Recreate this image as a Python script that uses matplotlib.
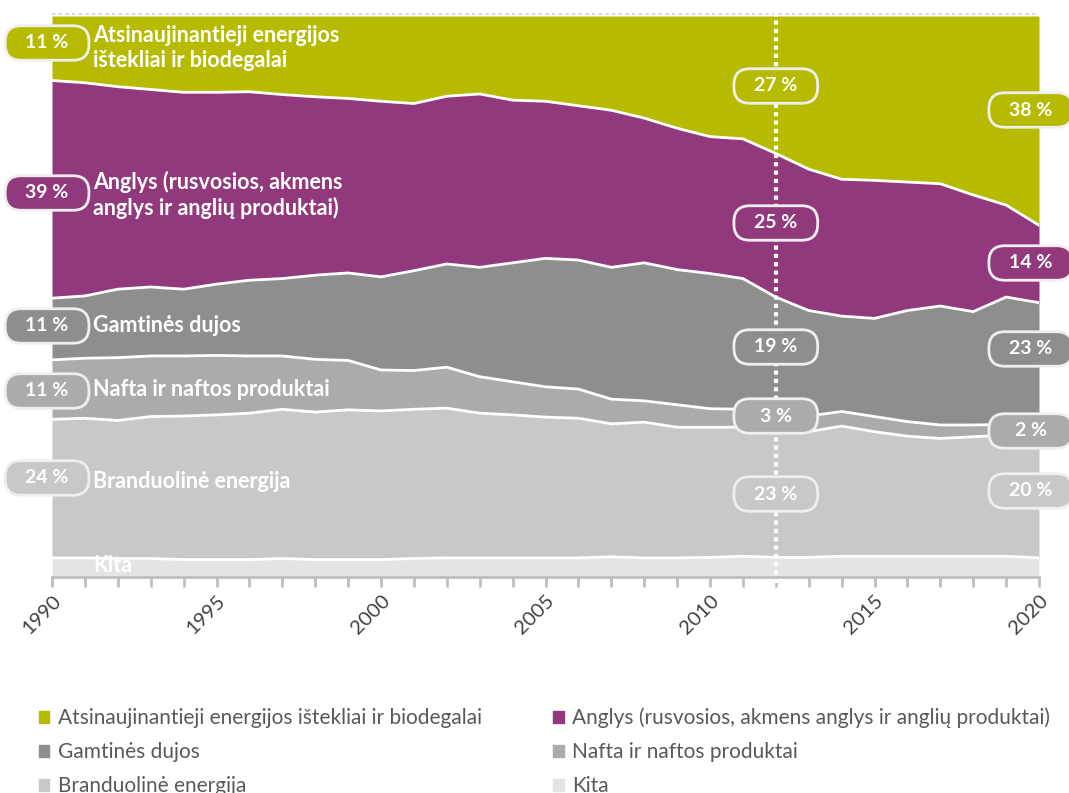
import matplotlib.pyplot as plt
import numpy as np
from matplotlib.patches import Patch

plt.rcParams['font.family'] = ['Lato', 'DejaVu Sans']

# Data (shares in %)
years = np.arange(1990, 2021)
renew = [11.5, 11.9, 12.6, 13.1, 13.6, 13.6, 13.5, 14.0, 14.4, 14.7, 15.2,
         15.6, 14.3, 13.9, 15.0, 15.2, 16.0, 16.8, 18.2, 20.0, 21.5,
         21.9, 24.5, 27.3, 29.1, 29.3, 29.6, 29.9, 31.9, 33.7, 37.3]
coal = [38.8, 38.0, 36.1, 35.2, 35.1, 34.2, 33.6, 32.8, 31.8, 31.1, 31.3,
        29.8, 29.9, 30.9, 29.0, 28.0, 27.5, 28.0, 25.8, 25.2, 24.4,
        24.9, 25.6, 25.2, 24.4, 24.6, 22.9, 21.8, 20.8, 16.4, 13.8]
gas = [11.0, 11.1, 12.2, 12.3, 11.9, 12.7, 13.5, 13.8, 15.0, 15.6, 16.6,
       17.8, 18.4, 19.5, 21.2, 22.9, 23.0, 23.5, 24.6, 24.1, 24.1,
       23.3, 20.8, 18.8, 17.0, 17.5, 19.8, 21.2, 20.2, 22.7, 21.6]
oil = [10.6, 10.7, 11.2, 10.8, 10.7, 10.6, 10.2, 9.5, 9.4, 8.8, 7.3,
       6.9, 7.3, 6.5, 5.9, 5.4, 5.2, 4.4, 3.8, 4.0, 3.3,
       3.2, 3.1, 2.8, 2.6, 2.7, 2.6, 2.4, 2.1, 1.9, 2.0]
nuclear = [24.7, 24.9, 24.6, 25.3, 25.6, 25.8, 26.1, 26.6, 26.3, 26.7, 26.5,
           26.6, 26.7, 25.8, 25.5, 25.1, 24.9, 23.7, 24.2, 23.3, 23.2,
           23.0, 22.5, 22.4, 23.2, 22.2, 21.4, 21.0, 21.3, 21.6, 21.9]
other = [3.4, 3.4, 3.3, 3.3, 3.1, 3.1, 3.1, 3.3, 3.1, 3.1, 3.1,
         3.3, 3.4, 3.4, 3.4, 3.4, 3.4, 3.6, 3.4, 3.4, 3.5,
         3.7, 3.5, 3.5, 3.7, 3.7, 3.7, 3.7, 3.7, 3.7, 3.4]

names = ['Atsinaujinantieji energijos ištekliai ir biodegalai',
         'Anglys (rusvosios, akmens anglys ir anglių produktai)',
         'Gamtinės dujos', 'Nafta ir naftos produktai',
         'Branduolinė energija', 'Kita']
colors = ['#B7BB00', '#92397E', '#8E8E8E', '#ABABAB', '#C8C8C8', '#E4E4E4']

# labels: start / 2012 / end values
start_lbl = ['11 %', '39 %', '11 %', '11 %', '24 %']
mid_lbl = ['27 %', '25 %', '19 %', '3 %', '23 %']
end_lbl = ['38 %', '14 %', '23 %', '2 %', '20 %']

W, H = 1069, 793
fig = plt.figure(figsize=(W / 100, H / 100), dpi=100)
ax = fig.add_axes([52 / W, 1 - 577 / H, (1039 - 52) / W, 561 / H])

series = [other, nuclear, oil, gas, coal, renew]
cols = colors[::-1]
base = np.zeros(len(years))
for vals, c in zip(series, cols):
    top = base + np.array(vals)
    ax.fill_between(years, base, top, color=c, lw=0, zorder=2)
    base = top
base = np.zeros(len(years))
for vals in series[:-1]:
    base = base + np.array(vals)
    ax.plot(years, base, color='white', lw=2, zorder=3)

ax.set_xlim(1990, 2020)
ax.set_ylim(0, 100)
ax.axhline(100.4, color='#D0D0D0', lw=1.2, ls=(0, (2, 2)), zorder=1, clip_on=False)
ax.axvline(2012, ymin=-0.01, ymax=1.01, color='white', lw=3, ls=(0, (1, 1)),
           zorder=4, clip_on=False)

for s in ['top', 'right', 'left']:
    ax.spines[s].set_visible(False)
ax.spines['bottom'].set_color('#BFBFBF')
ax.spines['bottom'].set_linewidth(2)
ax.set_yticks([])
ax.set_xticks(years)
ax.set_xticklabels([str(y) if y % 5 == 0 else '' for y in years],
                   rotation=45, ha='right', rotation_mode='anchor',
                   fontsize=14.5, color='#404040')
ax.tick_params(axis='x', length=7, width=2, color='#BFBFBF', pad=4)


def ypct(y_img):
    return (577 - y_img) / 561 * 100


def pill(x, y, txt, color):
    # transparent placeholder keeps every pill the same width
    ax.text(x, y, '0000 %', fontsize=14, fontweight='bold', color=(0, 0, 0, 0),
            ha='center', va='center', zorder=6, clip_on=False,
            bbox=dict(boxstyle='round,pad=0.45,rounding_size=0.82', fc=color,
                      ec='#EFEFEF', lw=2))
    ax.text(x, y, txt, fontsize=14, fontweight='bold', color='white',
            ha='center', va='center', zorder=7, clip_on=False)


left_y = [43, 193, 326, 391, 478]
mid_y = [86, 223, 347, 416, 494]
right_y = [110, 263, 349, 431, 491]
for i in range(5):
    pill(1989.85, ypct(left_y[i]), start_lbl[i], colors[i])
    pill(2012, ypct(mid_y[i]), mid_lbl[i], colors[i])
    pill(2019.75, ypct(right_y[i]), end_lbl[i], colors[i])

name_txt = ['Atsinaujinantieji energijos\ništekliai ir biodegalai',
            'Anglys (rusvosios, akmens\nanglys ir anglių produktai)',
            'Gamtinės dujos', 'Nafta ir naftos produktai',
            'Branduolinė energija', 'Kita']
name_y = [48, 195, 326, 390, 481, 566]
for t, y in zip(name_txt, name_y):
    ax.text(1991.25, ypct(y), t, fontsize=15.5, fontweight='bold', color='white',
            ha='left', va='center', linespacing=1.2, zorder=5)

order = [0, 2, 4, 1, 3, 5]
handles = [Patch(color=colors[i]) for i in order]
fig.legend(handles, [names[i] for i in order], loc='upper left',
           bbox_to_anchor=(20 / W, 1 - 689 / H), ncol=2, frameon=False,
           fontsize=15, handlelength=0.5, handleheight=0.5, handletextpad=0.4,
           labelspacing=0.67, columnspacing=3.45, labelcolor='#595959')

plt.savefig('out.png', dpi=100)
